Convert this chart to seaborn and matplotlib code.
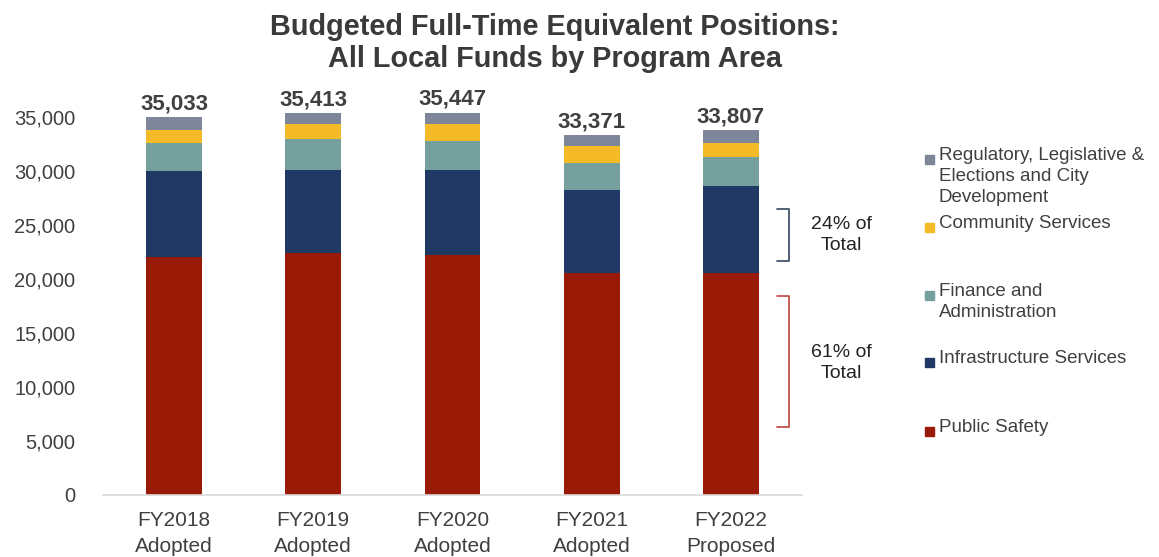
import numpy as np
import pandas as pd
import matplotlib.pyplot as plt
from matplotlib.patches import Rectangle
import seaborn as sns

# data (FTE positions, bottom to top of each stack)
years = ['FY2018\nAdopted', 'FY2019\nAdopted', 'FY2020\nAdopted', 'FY2021\nAdopted', 'FY2022\nProposed']
public_safety = [22030, 22380, 22220, 20520, 20520]
infrastructure = [7960, 7770, 7930, 7770, 8110]
finance = [2660, 2810, 2650, 2510, 2660]
community = [1210, 1390, 1550, 1510, 1360]
regulatory = [1173, 1063, 1097, 1061, 1157]

series_names = ['Public Safety', 'Infrastructure Services', 'Finance and\nAdministration',
                'Community Services', 'Regulatory, Legislative &\nElections and City\nDevelopment']
colors = ['#9A1A08', '#1F3864', '#76A09E', '#F5BA27', '#7E869A']

df = pd.DataFrame({'year': years, 'Public Safety': public_safety,
                   'Infrastructure': infrastructure, 'Finance': finance,
                   'Community': community, 'Regulatory': regulatory})
layers = ['Public Safety', 'Infrastructure', 'Finance', 'Community', 'Regulatory']
cum = df[layers].cumsum(axis=1)

sns.set_style('white')
plt.rcParams['font.family'] = ['Liberation Sans', 'DejaVu Sans']
txt = '#404040'

W, H = 1159, 557
fig = plt.figure(figsize=(W / 100, H / 100), dpi=100)
ax = fig.add_axes([103 / W, 1 - 494.5 / H, (802 - 103) / W, (494.5 - 85) / H])

# stacked bars: draw cumulative totals from the top layer down
for name, c in zip(layers[::-1], colors[::-1]):
    sns.barplot(x=df['year'], y=cum[name], color=c, saturation=1, width=0.40,
                linewidth=0, ax=ax)

totals = cum['Regulatory']
ax.bar_label(ax.containers[0], labels=[f'{t:,.0f}' for t in totals], padding=2,
             fontsize=16, fontweight='bold', color=txt)

ax.set_ylim(0, 38000)
ax.set_xlim(-0.51, 4.51)
ax.set_yticks(np.arange(0, 35001, 5000))
ax.yaxis.set_major_formatter(lambda v, p: f'{v:,.0f}')
ax.set_xticks(range(len(years)))
ax.set_xticklabels(years, linespacing=1.45)
ax.set_xlabel('')
ax.set_ylabel('')
ax.tick_params(axis='y', length=0, pad=20, labelsize=14.5, labelcolor=txt)
ax.tick_params(axis='x', length=0, pad=12, labelsize=15, labelcolor=txt)
for s in ['top', 'right', 'left']:
    ax.spines[s].set_visible(False)
ax.spines['bottom'].set_color('#d9d9d9')
ax.spines['bottom'].set_linewidth(1.2)

fig.text(555 / W, 1 - 43 / H, 'Budgeted Full-Time Equivalent Positions:\nAll Local Funds by Program Area',
         ha='center', va='center', fontsize=20.8, fontweight='bold', color='#3a3a3a',
         linespacing=1.2)

# brackets showing share of total in the latest year
last = df.iloc[-1]
tot = totals.iloc[-1]
ps_share = last['Public Safety'] / tot * 100
inf_share = last['Infrastructure'] / tot * 100

def bracket(y0, y1, c):
    x0, x1 = 777 / W, 789 / W
    ya, yb = 1 - y0 / H, 1 - y1 / H
    fig.add_artist(plt.Line2D([x0, x1, x1, x0], [ya, ya, yb, yb], color=c, lw=1.3,
                              transform=fig.transFigure))

bracket(209, 261, '#44546A')
bracket(296, 427, '#C0504D')
fig.text(841 / W, 1 - 235 / H, f'{inf_share:.0f}% of\nTotal', ha='center', va='center',
         fontsize=14, color='#222222', linespacing=1.35)
fig.text(841 / W, 1 - 363 / H, f'{ps_share:.0f}% of\nTotal', ha='center', va='center',
         fontsize=14, color='#222222', linespacing=1.35)

# legend drawn as free text to keep its uneven spacing
leg_y = [431, 362, 295, 227, 159]
for name, c, y in zip(series_names, colors, leg_y):
    fig.add_artist(Rectangle((925 / W, 1 - (y + 4.5) / H), 9 / W, 9 / H, color=c,
                             transform=fig.transFigure))
    fig.text(939 / W, 1 - (y - 12) / H, name, ha='left', va='top', fontsize=13.5,
             color=txt, linespacing=1.32)

fig.savefig('out.png', dpi=100)
